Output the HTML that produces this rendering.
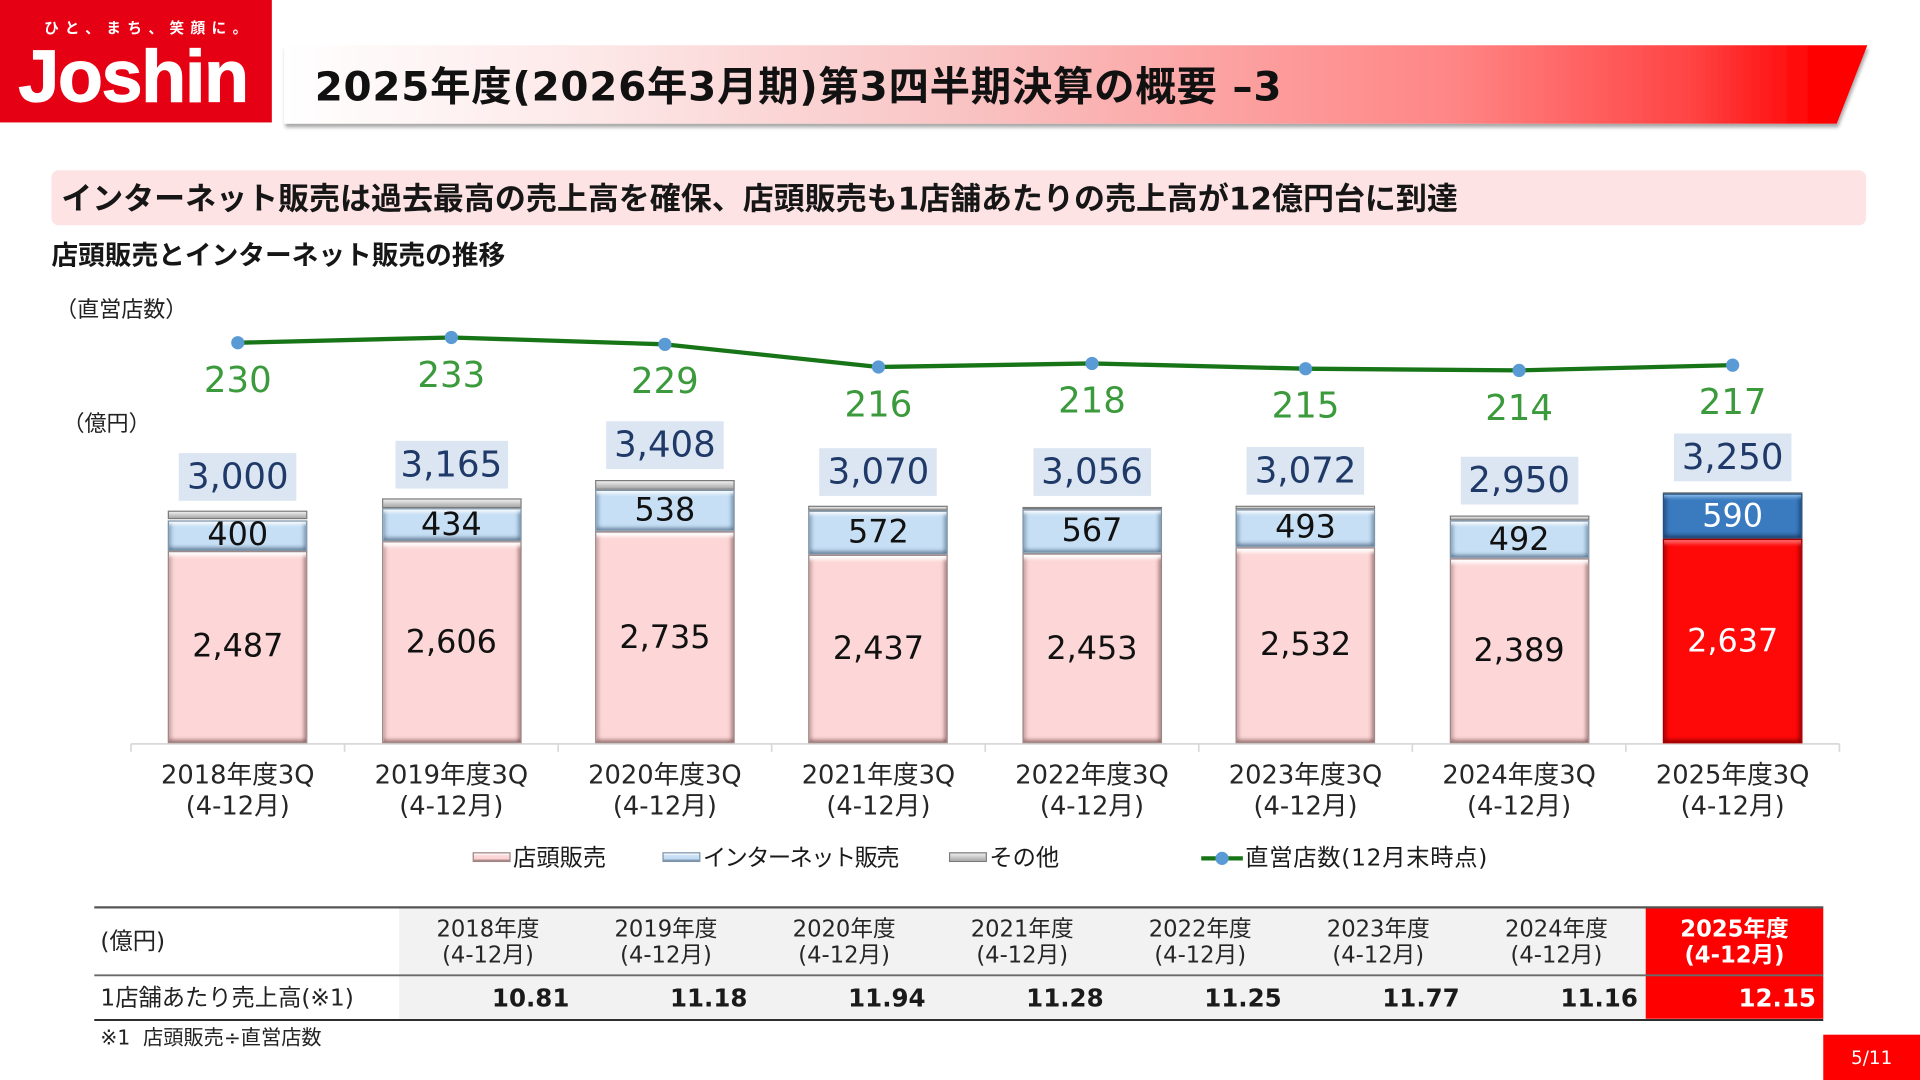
<!DOCTYPE html>
<html><head><meta charset="utf-8">
<style>
html,body{margin:0;padding:0;background:#fff;}
body{width:1920px;height:1080px;overflow:hidden;position:relative;}
#s{position:absolute;left:0;top:0;width:1568px;height:882px;transform:scale(1.2244898);transform-origin:0 0;font-family:"DejaVu Sans","Noto Sans CJK JP",sans-serif;color:#1a1a1a;}
.a{position:absolute;white-space:nowrap;}
.c{position:absolute;white-space:nowrap;text-align:center;}
.seg{position:absolute;width:114px;box-sizing:border-box;}
.pk{background:#fdd7d7;border:1px solid #9c8686;box-shadow:inset 0 5px 3px -2px rgba(255,255,255,.95),inset 4px 0 3px -2px rgba(140,100,100,.45),inset -4px 0 3px -2px rgba(110,70,70,.55),inset 0 -4px 3px -2px rgba(110,70,70,.6);}
.bl{background:#c6dff5;border:1px solid #7f93a6;box-shadow:inset 0 4px 3px -2px rgba(255,255,255,.95),inset 4px 0 3px -2px rgba(70,100,130,.45),inset -4px 0 3px -2px rgba(70,100,130,.55),inset 0 -4px 3px -2px rgba(70,95,125,.65);}
.gr{background:linear-gradient(#eeeeee,#a8a8a8);border:1px solid #7a7a7a;}
.rd{background:#ff0808;border:1px solid #a00000;box-shadow:inset 0 5px 3px -2px rgba(255,120,120,.8),inset 4px 0 3px -2px rgba(120,0,0,.55),inset -4px 0 3px -2px rgba(110,0,0,.65),inset 0 -4px 3px -2px rgba(100,0,0,.6);}
.db{background:#3a7bbf;border:1px solid #24507d;box-shadow:inset 0 4px 3px -2px rgba(150,195,240,.9),inset 4px 0 3px -2px rgba(20,50,90,.55),inset -4px 0 3px -2px rgba(20,50,90,.6),inset 0 -4px 3px -2px rgba(20,45,80,.65);}
.il{width:120px;height:30px;line-height:30px;font-size:26px;color:#111;}
.tot{height:39px;line-height:39px;font-size:29px;color:#1f3a68;background:#dce6f2;}
.gl{width:120px;height:36px;line-height:36px;font-size:29px;color:#3b9a3b;}
.cat{width:170px;line-height:25px;font-size:21px;color:#262626;}
.th{width:145px;line-height:21px;font-size:18.5px;color:#262626;}
.tv{height:30px;line-height:30px;font-size:20px;font-weight:bold;color:#1a1a1a;text-align:right;}
.lg{font-size:19px;height:26px;line-height:26px;color:#1a1a1a;}
</style></head><body>
<div id="s">
<svg class="a" style="left:0;top:0" width="1568" height="882" viewBox="0 0 1568 882">
<defs>
<linearGradient id="bg" x1="232" y1="0" x2="1525" y2="0" gradientUnits="userSpaceOnUse">
<stop offset="0" stop-color="#ffffff"/>
<stop offset="0.2" stop-color="#fde7e7"/>
<stop offset="0.43" stop-color="#f9c3c3"/>
<stop offset="0.74" stop-color="#ff8585"/>
<stop offset="0.89" stop-color="#ff4343"/>
<stop offset="0.97" stop-color="#ff0000"/>
<stop offset="1" stop-color="#ff0000"/>
</linearGradient>
<filter id="sh" x="-5%" y="-30%" width="110%" height="170%"><feDropShadow dx="1" dy="3" stdDeviation="1.5" flood-color="#000" flood-opacity="0.35"/></filter>
</defs>
<rect x="0" y="0" width="222" height="100" fill="#e60013"/>
<polygon points="232,37 1525,37 1500,101 232,101" fill="url(#bg)" filter="url(#sh)"/>
<rect x="42" y="139" width="1482" height="45" rx="6" fill="#fde3e4"/>
<line x1="107" y1="607.5" x2="1502.2" y2="607.5" stroke="#d9d9d9" stroke-width="1.4"/>
<g stroke="#d9d9d9" stroke-width="1.4">
<line x1="107" y1="607.5" x2="107" y2="614"/><line x1="281.4" y1="607.5" x2="281.4" y2="614"/>
<line x1="455.8" y1="607.5" x2="455.8" y2="614"/><line x1="630.2" y1="607.5" x2="630.2" y2="614"/>
<line x1="804.6" y1="607.5" x2="804.6" y2="614"/><line x1="979" y1="607.5" x2="979" y2="614"/>
<line x1="1153.4" y1="607.5" x2="1153.4" y2="614"/><line x1="1327.8" y1="607.5" x2="1327.8" y2="614"/>
<line x1="1502.2" y1="607.5" x2="1502.2" y2="614"/>
</g>
<polyline points="194.2,279.9 368.6,275.6 543,281.2 717.4,299.7 891.8,296.8 1066.2,301.1 1240.6,302.5 1415,298.2" fill="none" stroke="#177517" stroke-width="3.5" stroke-linejoin="round"/>
<g fill="#5b9bd5">
<circle cx="194.2" cy="279.9" r="5.4"/><circle cx="368.6" cy="275.6" r="5.4"/>
<circle cx="543" cy="281.2" r="5.4"/><circle cx="717.4" cy="299.7" r="5.4"/>
<circle cx="891.8" cy="296.8" r="5.4"/><circle cx="1066.2" cy="301.1" r="5.4"/>
<circle cx="1240.6" cy="302.5" r="5.4"/><circle cx="1415" cy="298.2" r="5.4"/>
</g>
<line x1="981" y1="701" x2="1015" y2="701" stroke="#177517" stroke-width="3.5"/>
<circle cx="998" cy="701" r="5.4" fill="#5b9bd5"/>
<rect x="326" y="741" width="1018" height="91" fill="#f2f2f2"/>
<rect x="1344" y="741" width="145" height="91" fill="#ff0000"/>
<line x1="77" y1="741" x2="1489" y2="741" stroke="#555" stroke-width="1.8"/>
<line x1="77" y1="796.5" x2="1489" y2="796.5" stroke="#6a6a6a" stroke-width="1.6"/>
<line x1="77" y1="833" x2="1489" y2="833" stroke="#111" stroke-width="1.5"/>
<rect x="1489" y="845" width="79" height="37" fill="#ff0000"/>
</svg>

<div class="a" style="left:36px;top:13px;font-size:12px;line-height:20px;letter-spacing:5.2px;color:#fff;font-weight:bold;">ひと、まち、笑顔に。</div>
<div class="a" style="left:15px;top:28px;font-family:'Liberation Sans',sans-serif;font-weight:bold;font-size:60px;line-height:70px;letter-spacing:-1px;color:#fff;-webkit-text-stroke:1px #fff;">Joshin</div>

<div class="a" style="left:257px;top:50px;font-size:33px;line-height:42px;letter-spacing:0.6px;font-weight:bold;color:#111;">2025年度(2026年3月期)第3四半期決算の概要 –3</div>
<div class="a" style="left:50px;top:147px;font-size:25.3px;line-height:32px;font-weight:bold;color:#161616;">インターネット販売は過去最高の売上高を確保、店頭販売も1店舗あたりの売上高が12億円台に到達</div>
<div class="a" style="left:42px;top:196px;font-size:21.8px;line-height:28px;font-weight:bold;color:#161616;">店頭販売とインターネット販売の推移</div>
<div class="a" style="left:45px;top:241px;font-size:18px;line-height:26px;color:#222;">（直営店数）</div>
<div class="a" style="left:51px;top:334px;font-size:18px;line-height:26px;color:#222;">（億円）</div>

<div class="c gl" style="left:134.2px;top:291.9px">230</div>
<div class="c gl" style="left:308.6px;top:287.6px">233</div>
<div class="c gl" style="left:483px;top:293.2px">229</div>
<div class="c gl" style="left:657.4px;top:311.7px">216</div>
<div class="c gl" style="left:831.8px;top:308.8px">218</div>
<div class="c gl" style="left:1006.2px;top:313.1px">215</div>
<div class="c gl" style="left:1180.6px;top:314.5px">214</div>
<div class="c gl" style="left:1355px;top:310.2px">217</div>

<div class="c tot" style="left:146.2px;top:369.9px;width:96px">3,000</div>
<div class="c tot" style="left:322.6px;top:359.5px;width:92px">3,165</div>
<div class="c tot" style="left:495px;top:344.1px;width:96px">3,408</div>
<div class="c tot" style="left:669.4px;top:365.5px;width:96px">3,070</div>
<div class="c tot" style="left:843.8px;top:366.4px;width:96px">3,056</div>
<div class="c tot" style="left:1018.2px;top:365.4px;width:96px">3,072</div>
<div class="c tot" style="left:1192.6px;top:373.1px;width:96px">2,950</div>
<div class="c tot" style="left:1367px;top:354.1px;width:96px">3,250</div>

<div class="seg gr" style="left:137.2px;top:417.4px;height:7.1px"></div>
<div class="seg bl" style="left:137.2px;top:424.5px;height:25.3px"></div>
<div class="seg pk" style="left:137.2px;top:449.8px;height:157.2px"></div>

<div class="seg gr" style="left:311.6px;top:407px;height:7.9px"></div>
<div class="seg bl" style="left:311.6px;top:414.9px;height:27.4px"></div>
<div class="seg pk" style="left:311.6px;top:442.3px;height:164.7px"></div>

<div class="seg gr" style="left:486px;top:391.6px;height:8.5px"></div>
<div class="seg bl" style="left:486px;top:400.1px;height:34px"></div>
<div class="seg pk" style="left:486px;top:434.1px;height:172.9px"></div>

<div class="seg gr" style="left:660.4px;top:413px;height:3.9px"></div>
<div class="seg bl" style="left:660.4px;top:416.9px;height:36.1px"></div>
<div class="seg pk" style="left:660.4px;top:453px;height:154px"></div>

<div class="seg gr" style="left:834.8px;top:413.9px;height:2.3px"></div>
<div class="seg bl" style="left:834.8px;top:416.2px;height:35.8px"></div>
<div class="seg pk" style="left:834.8px;top:452px;height:155px"></div>

<div class="seg gr" style="left:1009.2px;top:412.9px;height:2.9px"></div>
<div class="seg bl" style="left:1009.2px;top:415.8px;height:31.2px"></div>
<div class="seg pk" style="left:1009.2px;top:447px;height:160px"></div>

<div class="seg gr" style="left:1183.6px;top:420.6px;height:4.3px"></div>
<div class="seg bl" style="left:1183.6px;top:424.9px;height:31.1px"></div>
<div class="seg pk" style="left:1183.6px;top:456px;height:151px"></div>

<div class="seg gr" style="left:1358px;top:401.6px;height:1.6px"></div>
<div class="seg db" style="left:1358px;top:403px;height:37.3px"></div>
<div class="seg rd" style="left:1358px;top:440.3px;height:166.7px"></div>

<div class="c il" style="left:134.2px;top:422.2px">400</div>
<div class="c il" style="left:134.2px;top:513.4px">2,487</div>
<div class="c il" style="left:308.6px;top:413.6px">434</div>
<div class="c il" style="left:308.6px;top:509.7px">2,606</div>
<div class="c il" style="left:483px;top:402.1px">538</div>
<div class="c il" style="left:483px;top:505.6px">2,735</div>
<div class="c il" style="left:657.4px;top:420px">572</div>
<div class="c il" style="left:657.4px;top:515px">2,437</div>
<div class="c il" style="left:831.8px;top:419.1px">567</div>
<div class="c il" style="left:831.8px;top:514.5px">2,453</div>
<div class="c il" style="left:1006.2px;top:416.4px">493</div>
<div class="c il" style="left:1006.2px;top:512px">2,532</div>
<div class="c il" style="left:1180.6px;top:425.5px">492</div>
<div class="c il" style="left:1180.6px;top:516.5px">2,389</div>
<div class="c il" style="left:1355px;top:406.7px;color:#fff">590</div>
<div class="c il" style="left:1355px;top:508.7px;color:#fff">2,637</div>

<div class="c cat" style="left:109.2px;top:621px">2018年度3Q<br>(4-12月)</div>
<div class="c cat" style="left:283.6px;top:621px">2019年度3Q<br>(4-12月)</div>
<div class="c cat" style="left:458px;top:621px">2020年度3Q<br>(4-12月)</div>
<div class="c cat" style="left:632.4px;top:621px">2021年度3Q<br>(4-12月)</div>
<div class="c cat" style="left:806.8px;top:621px">2022年度3Q<br>(4-12月)</div>
<div class="c cat" style="left:981.2px;top:621px">2023年度3Q<br>(4-12月)</div>
<div class="c cat" style="left:1155.6px;top:621px">2024年度3Q<br>(4-12月)</div>
<div class="c cat" style="left:1330px;top:621px">2025年度3Q<br>(4-12月)</div>

<div class="seg pk" style="left:386px;top:696px;width:31px;height:8px;box-shadow:inset 0 2px 1px -1px #fff,inset 0 -2px 1px -1px rgba(110,70,70,.6)"></div>
<div class="a lg" style="left:419px;top:688px">店頭販売</div>
<div class="seg bl" style="left:541px;top:696px;width:31px;height:8px;box-shadow:inset 0 2px 1px -1px #fff,inset 0 -2px 1px -1px rgba(70,95,125,.6)"></div>
<div class="a lg" style="left:574px;top:688px;letter-spacing:-1.3px">インターネット販売</div>
<div class="seg gr" style="left:775px;top:696px;width:31px;height:8px"></div>
<div class="a lg" style="left:808px;top:688px">その他</div>
<div class="a lg" style="left:1017px;top:688px;letter-spacing:0.6px">直営店数(12月末時点)</div>

<div class="a" style="left:82px;top:756px;font-size:19px;line-height:26px;color:#222;">(億円)</div>
<div class="a" style="left:82px;top:802px;font-size:19px;line-height:26px;color:#222;">1店舗あたり売上高(※1)</div>
<div class="c th" style="left:326px;top:749px">2018年度<br>(4-12月)</div>
<div class="c th" style="left:471.4px;top:749px">2019年度<br>(4-12月)</div>
<div class="c th" style="left:616.9px;top:749px">2020年度<br>(4-12月)</div>
<div class="c th" style="left:762.3px;top:749px">2021年度<br>(4-12月)</div>
<div class="c th" style="left:907.7px;top:749px">2022年度<br>(4-12月)</div>
<div class="c th" style="left:1053.1px;top:749px">2023年度<br>(4-12月)</div>
<div class="c th" style="left:1198.6px;top:749px">2024年度<br>(4-12月)</div>
<div class="c th" style="left:1344px;top:749px;color:#fff;font-weight:bold">2025年度<br>(4-12月)</div>

<div class="a tv" style="left:326px;top:800px;width:139px">10.81</div>
<div class="a tv" style="left:471.4px;top:800px;width:139px">11.18</div>
<div class="a tv" style="left:616.9px;top:800px;width:139px">11.94</div>
<div class="a tv" style="left:762.3px;top:800px;width:139px">11.28</div>
<div class="a tv" style="left:907.7px;top:800px;width:139px">11.25</div>
<div class="a tv" style="left:1053.1px;top:800px;width:139px">11.77</div>
<div class="a tv" style="left:1198.6px;top:800px;width:139px">11.16</div>
<div class="a tv" style="left:1344px;top:800px;width:139px;color:#fff">12.15</div>

<div class="a" style="left:82px;top:836px;font-size:16.5px;line-height:24px;color:#222;">※1&nbsp;&nbsp;店頭販売÷直営店数</div>
<div class="c" style="left:1489px;top:851px;width:79px;font-size:15px;line-height:26px;color:#fff;">5/11</div>
</div>
</body></html>
